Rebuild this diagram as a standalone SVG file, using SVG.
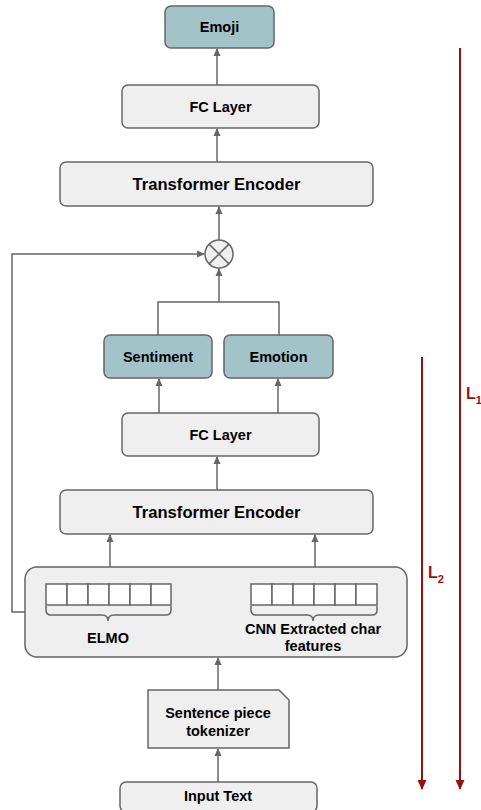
<svg xmlns="http://www.w3.org/2000/svg" width="481" height="810" viewBox="0 0 481 810">
<style>
.box{fill:#efefef;stroke:#666;stroke-width:1.5}
.teal{fill:#a2c4c9;stroke:#666;stroke-width:1.5}
.t{font-family:"Liberation Sans",Arial,sans-serif;font-weight:bold;font-size:14.5px;fill:#000;text-anchor:middle;dominant-baseline:central}
.big{font-size:16.6px}
.ln{fill:none;stroke:#666;stroke-width:1.5}
.cell{fill:#fff;stroke:#666;stroke-width:1.5}
.red{fill:none;stroke:#9c0f0f;stroke-width:2}
.rt{font-family:"Liberation Sans",Arial,sans-serif;font-weight:bold;font-size:16px;fill:#9c0f0f}
.rs{font-size:11px}
</style>
<defs>
<marker id="ah" markerWidth="8" markerHeight="8" refX="7" refY="4" orient="auto" markerUnits="userSpaceOnUse"><path d="M0,0.5 L8,4 L0,7.5 Z" fill="#666"/></marker>
<marker id="rh" markerWidth="10" markerHeight="10" refX="9" refY="5" orient="auto" markerUnits="userSpaceOnUse"><path d="M0,0.5 L10,5 L0,9.5 Z" fill="#9c0f0f"/></marker>
</defs>
<g id="connectors">
<line class="ln" x1="217" y1="85" x2="217" y2="49" marker-end="url(#ah)"/>
<line class="ln" x1="217" y1="162" x2="217" y2="129" marker-end="url(#ah)"/>
<line class="ln" x1="219" y1="240" x2="219" y2="207" marker-end="url(#ah)"/>
<line class="ln" x1="219" y1="302" x2="219" y2="269" marker-end="url(#ah)"/>
<polyline class="ln" points="158,335 158,302 279,302 279,335"/>
<polyline class="ln" points="25,612 12,612 12,254 204,254" marker-end="url(#ah)"/>
<line class="ln" x1="159" y1="413" x2="159" y2="379" marker-end="url(#ah)"/>
<line class="ln" x1="278" y1="413" x2="278" y2="379" marker-end="url(#ah)"/>
<line class="ln" x1="217" y1="490" x2="217" y2="457" marker-end="url(#ah)"/>
<line class="ln" x1="110" y1="567" x2="110" y2="535" marker-end="url(#ah)"/>
<line class="ln" x1="315" y1="567" x2="315" y2="535" marker-end="url(#ah)"/>
<line class="ln" x1="218" y1="690" x2="218" y2="658" marker-end="url(#ah)"/>
<line class="ln" x1="218" y1="782" x2="218" y2="749" marker-end="url(#ah)"/>
<line class="red" x1="460" y1="48" x2="460" y2="789" marker-end="url(#rh)"/>
<line class="red" x1="422" y1="357" x2="422" y2="789" marker-end="url(#rh)"/>
</g>
<g id="emoji"><rect class="teal" x="165" y="6" width="109" height="42" rx="6"/><text class="t" x="219.5" y="27">Emoji</text></g>
<g id="fc1"><rect class="box" x="122" y="85" width="197" height="43" rx="6"/><text class="t" x="220.5" y="106.5">FC Layer</text></g>
<g id="te1"><rect class="box" x="60" y="162" width="313" height="44" rx="6"/><text class="t big" x="216.5" y="184">Transformer Encoder</text></g>
<g id="mult"><circle cx="219" cy="254" r="14" fill="#efefef" stroke="#666" stroke-width="1.5"/><path class="ln" d="M209.1,244.1 L228.9,263.9 M228.9,244.1 L209.1,263.9"/></g>
<g id="sentiment"><rect class="teal" x="104" y="335" width="108" height="43" rx="6"/><text class="t" x="158" y="356.5">Sentiment</text></g>
<g id="emotion"><rect class="teal" x="224" y="335" width="109" height="43" rx="6"/><text class="t" x="278.5" y="356.5">Emotion</text></g>
<g id="fc2"><rect class="box" x="122" y="413" width="197" height="43" rx="6"/><text class="t" x="220.5" y="434.5">FC Layer</text></g>
<g id="te2"><rect class="box" x="60" y="490" width="313" height="44" rx="6"/><text class="t big" x="216.5" y="512">Transformer Encoder</text></g>
<g id="embed">
<rect class="box" x="25" y="567" width="382" height="90" rx="12"/>
<g>
<rect class="cell" x="46" y="584" width="21" height="21"/><rect class="cell" x="67" y="584" width="21" height="21"/><rect class="cell" x="88" y="584" width="21" height="21"/><rect class="cell" x="109" y="584" width="21" height="21"/><rect class="cell" x="130" y="584" width="21" height="21"/><rect class="cell" x="151" y="584" width="20" height="21"/>
</g>
<path class="ln" d="M46,606 L46,610 Q46,615 51,615 L102,615 Q108,615 108,621 Q108,615 114,615 L166,615 Q171,615 171,610 L171,606"/>
<text class="t" x="108" y="638">ELMO</text>
<g>
<rect class="cell" x="251" y="584" width="21" height="21"/><rect class="cell" x="272" y="584" width="21" height="21"/><rect class="cell" x="293" y="584" width="21" height="21"/><rect class="cell" x="314" y="584" width="21" height="21"/><rect class="cell" x="335" y="584" width="21" height="21"/><rect class="cell" x="356" y="584" width="21" height="21"/>
</g>
<path class="ln" d="M251,606 L251,610 Q251,615 256,615 L307,615 Q313,615 313,621 Q313,615 319,615 L372,615 Q377,615 377,610 L377,606"/>
<text class="t" x="313" y="629">CNN Extracted char</text>
<text class="t" x="313" y="646">features</text>
</g>
<g id="tokenizer"><path class="box" d="M148,690 L279,690 L289,700 L289,748 L148,748 Z"/><text class="t" x="218" y="713">Sentence piece</text><text class="t" x="218" y="731">tokenizer</text></g>
<g id="input"><rect class="box" x="120" y="782" width="197" height="30" rx="6"/><text class="t" x="218" y="796">Input Text</text></g>
<g id="labels">
<text class="rt" x="466" y="399">L<tspan class="rs" dy="5">1</tspan></text>
<text class="rt" x="428" y="578">L<tspan class="rs" dy="5">2</tspan></text>
</g>
</svg>
